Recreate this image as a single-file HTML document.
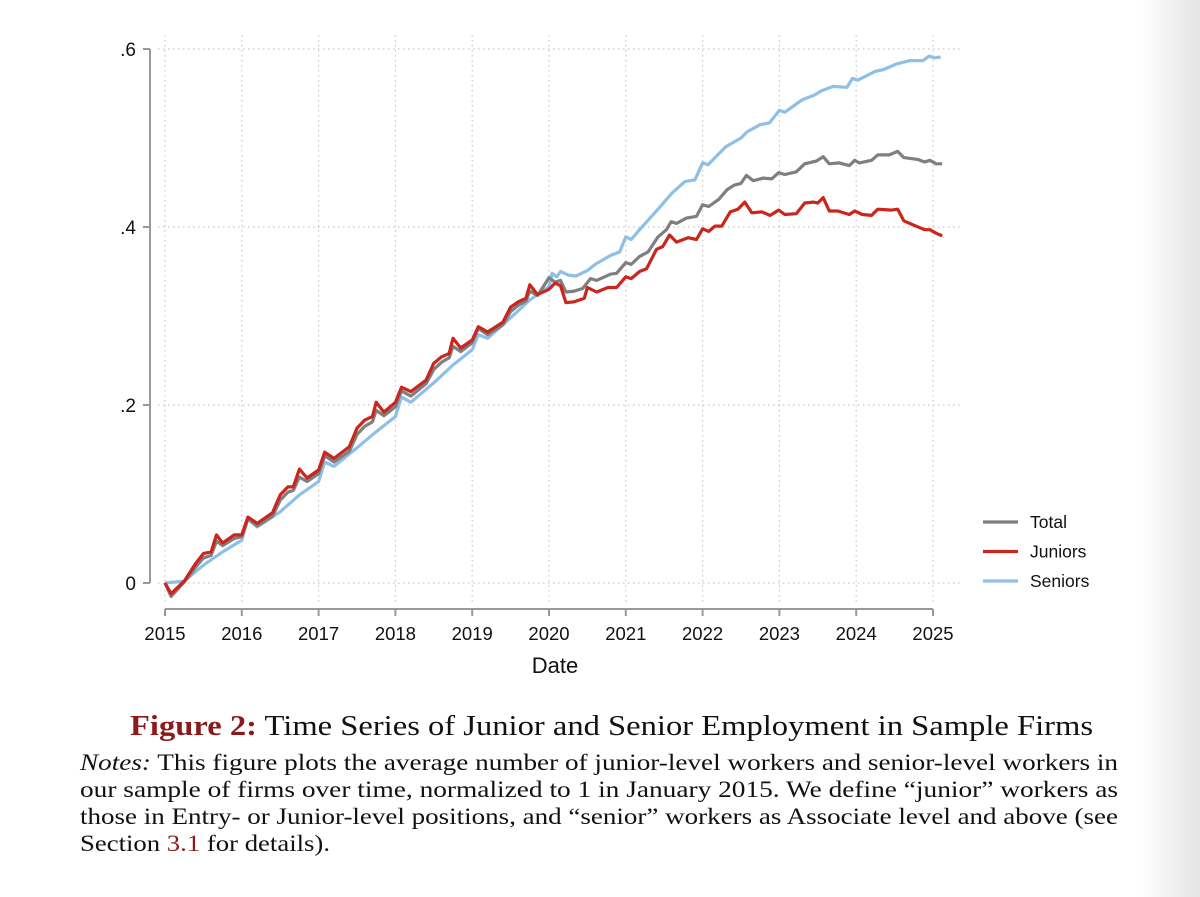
<!DOCTYPE html>
<html><head><meta charset="utf-8">
<style>
body{margin:0;width:1200px;height:897px;background:#fff;overflow:hidden;position:relative;font-family:"Liberation Sans",sans-serif}
#shade{position:absolute;left:1140px;top:0;width:60px;height:897px;background:linear-gradient(to right,rgba(255,255,255,0),#e4e4e4)}
.fit{display:inline-block;white-space:nowrap;transform-origin:0 0}
#cap{position:absolute;left:130px;top:711px;font-family:"Liberation Serif",serif;font-size:28px;color:#111}
#cap b{color:#8b1a1a}
#notes{position:absolute;left:80px;top:749px;font-family:"Liberation Serif",serif;font-size:23px;line-height:27px;color:#111}
#notes .row{height:27px}
#notes .r{color:#8b1a1a}
</style></head><body>
<div id="shade"></div>
<svg id="chart" width="1200" height="700" style="position:absolute;left:0;top:0"></svg>
<div id="cap"><span class="fit" data-w="963"><b>Figure 2:</b> Time Series of Junior and Senior Employment in Sample Firms</span></div>
<div id="notes">
<div class="row"><span class="fit" data-w="1038"><i>Notes:</i> This figure plots the average number of junior-level workers and senior-level workers in</span></div>
<div class="row"><span class="fit" data-w="1038">our sample of firms over time, normalized to 1 in January 2015. We define “junior” workers as</span></div>
<div class="row"><span class="fit" data-w="1038">those in Entry- or Junior-level positions, and “senior” workers as Associate level and above (see</span></div>
<div class="row"><span class="fit" data-w="250">Section <span class="r">3.1</span> for details).</span></div>
</div>
<script>
document.querySelectorAll('.fit').forEach(s=>{const w=s.getBoundingClientRect().width;s.style.transform='scaleX('+(+s.dataset.w/w)+')';});
const xTicks=[2015,2016,2017,2018,2019,2020,2021,2022,2023,2024,2025];
const yTicks=[0,0.2,0.4,0.6];
const yTickLabels=["0",".2",".4",".6"];
const seriesNames=["Total","Juniors","Seniors"];
const juniorsT=[2015,2015.08,2015.25,2015.4,2015.5,2015.6,2015.67,2015.75,2015.9,2016,2016.08,2016.2,2016.4,2016.5,2016.6,2016.67,2016.75,2016.85,2017,2017.08,2017.2,2017.4,2017.5,2017.6,2017.7,2017.75,2017.85,2018,2018.08,2018.2,2018.4,2018.5,2018.6,2018.7,2018.75,2018.85,2019,2019.08,2019.2,2019.4,2019.5,2019.6,2019.7,2019.75,2019.85,2020,2020.08,2020.15,2020.22,2020.33,2020.46,2020.5,2020.62,2020.77,2020.88,2021,2021.07,2021.18,2021.27,2021.4,2021.48,2021.57,2021.66,2021.81,2021.92,2022,2022.08,2022.16,2022.25,2022.36,2022.46,2022.55,2022.64,2022.77,2022.88,2022.99,2023.07,2023.22,2023.33,2023.44,2023.5,2023.57,2023.65,2023.76,2023.91,2023.98,2024.08,2024.2,2024.28,2024.46,2024.54,2024.62,2024.75,2024.89,2024.96,2025.04,2025.12];
const juniorsV=[0,-0.012,0.002,0.022,0.033,0.035,0.054,0.045,0.054,0.054,0.074,0.067,0.079,0.099,0.108,0.108,0.128,0.118,0.127,0.147,0.14,0.153,0.174,0.183,0.187,0.203,0.192,0.203,0.22,0.215,0.228,0.247,0.254,0.258,0.275,0.264,0.273,0.288,0.282,0.293,0.31,0.316,0.32,0.335,0.324,0.33,0.337,0.334,0.315,0.316,0.32,0.332,0.327,0.332,0.332,0.344,0.342,0.35,0.353,0.375,0.378,0.391,0.383,0.388,0.386,0.398,0.395,0.401,0.401,0.417,0.42,0.428,0.416,0.417,0.413,0.419,0.414,0.415,0.427,0.428,0.427,0.433,0.418,0.418,0.414,0.418,0.414,0.413,0.42,0.419,0.42,0.407,0.402,0.397,0.397,0.393,0.39];
const totalT=[2015,2015.08,2015.25,2015.4,2015.5,2015.6,2015.67,2015.75,2015.9,2016,2016.08,2016.2,2016.4,2016.5,2016.6,2016.67,2016.75,2016.85,2017,2017.08,2017.2,2017.4,2017.5,2017.6,2017.7,2017.75,2017.85,2018,2018.08,2018.2,2018.4,2018.5,2018.6,2018.7,2018.75,2018.85,2019,2019.08,2019.2,2019.4,2019.5,2019.6,2019.7,2019.75,2019.85,2020,2020.08,2020.15,2020.22,2020.33,2020.44,2020.54,2020.62,2020.8,2020.88,2021,2021.07,2021.18,2021.29,2021.42,2021.53,2021.59,2021.66,2021.79,2021.92,2022,2022.08,2022.21,2022.32,2022.41,2022.5,2022.57,2022.66,2022.79,2022.9,2022.99,2023.07,2023.22,2023.33,2023.48,2023.57,2023.65,2023.78,2023.91,2023.98,2024.04,2024.2,2024.28,2024.43,2024.54,2024.62,2024.8,2024.89,2024.96,2025.04,2025.12];
const totalV=[0,-0.015,0.001,0.018,0.028,0.031,0.047,0.042,0.05,0.052,0.072,0.064,0.075,0.093,0.102,0.104,0.119,0.114,0.123,0.143,0.136,0.148,0.167,0.176,0.181,0.194,0.188,0.198,0.216,0.21,0.224,0.24,0.248,0.253,0.266,0.26,0.27,0.286,0.279,0.29,0.305,0.312,0.317,0.328,0.323,0.343,0.338,0.34,0.327,0.328,0.331,0.342,0.34,0.347,0.348,0.36,0.358,0.367,0.372,0.389,0.397,0.406,0.404,0.41,0.412,0.425,0.423,0.431,0.442,0.447,0.449,0.458,0.452,0.455,0.454,0.461,0.459,0.462,0.471,0.474,0.479,0.471,0.472,0.469,0.475,0.472,0.475,0.481,0.481,0.485,0.478,0.476,0.473,0.475,0.471,0.471];
const seniorsT=[2015,2015.25,2015.5,2015.75,2016,2016.08,2016.2,2016.5,2016.75,2017,2017.08,2017.2,2017.5,2017.75,2018,2018.08,2018.2,2018.5,2018.75,2019,2019.08,2019.2,2019.5,2019.75,2020,2020.04,2020.1,2020.15,2020.25,2020.35,2020.5,2020.6,2020.8,2020.92,2021,2021.07,2021.18,2021.43,2021.6,2021.77,2021.9,2022,2022.07,2022.3,2022.5,2022.58,2022.75,2022.87,2023,2023.07,2023.3,2023.45,2023.55,2023.7,2023.88,2023.95,2024.02,2024.25,2024.36,2024.52,2024.7,2024.87,2024.95,2025.02,2025.1];
const seniorsV=[0,0.002,0.02,0.035,0.048,0.072,0.063,0.08,0.099,0.114,0.136,0.131,0.152,0.17,0.187,0.209,0.203,0.225,0.245,0.262,0.279,0.275,0.298,0.318,0.333,0.348,0.344,0.35,0.346,0.345,0.351,0.358,0.368,0.372,0.389,0.386,0.397,0.421,0.438,0.451,0.453,0.472,0.47,0.49,0.5,0.507,0.515,0.517,0.531,0.529,0.543,0.548,0.553,0.558,0.557,0.567,0.565,0.575,0.577,0.583,0.587,0.587,0.592,0.59,0.591];

const svg=document.getElementById('chart');
const NS='http://www.w3.org/2000/svg';
const X=t=>165+(t-2015)*76.8;
const Y=v=>583-v*890;
function mk(tag,attrs){const e=document.createElementNS(NS,tag);for(const k in attrs)e.setAttribute(k,attrs[k]);svg.appendChild(e);return e;}
yTicks.forEach((v,i)=>{
 const g=mk('line',{x1:158,x2:962,y1:Y(v),y2:Y(v),stroke:'#c8c8c8','stroke-width':1.2,'stroke-dasharray':'1.5 3.5'});
 
 
 const t=mk('line',{x1:143,x2:150,y1:Y(v),y2:Y(v),stroke:'#999','stroke-width':2});
 
 
 const l=mk('text',{x:136,y:Y(v)+7,'text-anchor':'end','font-size':19,fill:'#111'});
 l.textContent=yTickLabels[i];
 
 
});
xTicks.forEach(t=>{
 const g=mk('line',{x1:X(t),x2:X(t),y1:35,y2:604,stroke:'#c8c8c8','stroke-width':1.2,'stroke-dasharray':'1.5 3.5'});
 
 
 const k=mk('line',{x1:X(t),x2:X(t),y1:609,y2:616,stroke:'#999','stroke-width':2});
 
 
 const l=mk('text',{x:X(t),y:640,'text-anchor':'middle','font-size':18.5,fill:'#111'});
 l.textContent=t;
 
 
});
const ya=mk('line',{x1:150,x2:150,y1:Y(0.6),y2:Y(0),stroke:'#999','stroke-width':2});


const xa=mk('line',{x1:X(2015),x2:X(2025),y1:609,y2:609,stroke:'#999','stroke-width':2});


const xt=mk('text',{x:555,y:673,'text-anchor':'middle','font-size':22,fill:'#111'});
xt.textContent='Date';


const cols=['#7f7f7f','#c9261d','#8fbfe6'];
const data=[[totalT,totalV],[juniorsT,juniorsV],[seniorsT,seniorsV]];
[2,0,1].forEach(i=>{
 const [T,V]=data[i];
 const p=mk('polyline',{points:T.map((t,j)=>X(t).toFixed(1)+','+Y(V[j]).toFixed(1)).join(' '),fill:'none',stroke:cols[i],'stroke-width':3.2,'stroke-linejoin':'round'});
 
 
});
seriesNames.forEach((n,i)=>{
 const y=522+i*29.5;
 const l=mk('line',{x1:983,x2:1018,y1:y,y2:y,stroke:cols[i],'stroke-width':3.2});
 
 
 const t=mk('text',{x:1030,y:y+6,'font-size':17.5,fill:'#111'});
 t.textContent=n;
 
 
});
</script>
</body></html>
